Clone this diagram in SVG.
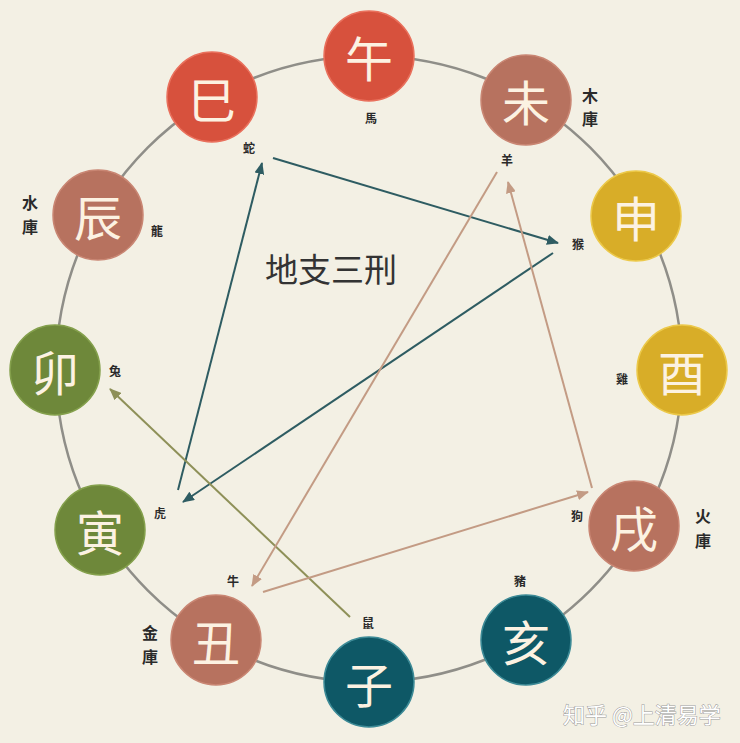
<svg xmlns="http://www.w3.org/2000/svg" width="740" height="743" viewBox="0 0 740 743">
<style>
.bg{fill:#f3f0e4}
.ring{fill:none;stroke:#8f8e88;stroke-width:2.5}
.n{stroke-width:1.5}
.red{fill:#d7513d;stroke:#e9705c}
.brn{fill:#b7725f;stroke:#c98673}
.gld{fill:#d8ad28;stroke:#ecc94a}
.grn{fill:#6e883a;stroke:#84a04c}
.tel{fill:#0e5866;stroke:#3c8a96}
.ch{font-family:"Noto Sans CJK SC","Noto Sans CJK TC",sans-serif;font-size:48px;fill:#fcf2e2;text-anchor:middle;dominant-baseline:central}
.sm{font-family:"Noto Sans CJK TC","Noto Sans CJK SC",sans-serif;font-size:12px;fill:#2a2a2a;text-anchor:middle;dominant-baseline:central;font-weight:bold}
.ku{font-family:"Noto Sans CJK TC","Noto Sans CJK SC",sans-serif;font-size:16px;fill:#2a2a2a;text-anchor:middle;dominant-baseline:central;font-weight:bold}
.title{font-family:"Noto Sans CJK SC",sans-serif;font-size:33px;fill:#333;text-anchor:middle;dominant-baseline:central}
.wm{font-family:"Noto Sans CJK SC",sans-serif;font-size:22px;fill:#ffffff;stroke:#9a9a9a;stroke-width:1;paint-order:stroke;dominant-baseline:central}
.a{fill:none;stroke-width:2}
.t{stroke:#2e5c62}
.o{stroke:#8e9058}
.b{stroke:#c39b84}
</style>
<defs>
<marker id="mt" viewBox="0 0 12 10" refX="11" refY="5" markerWidth="12" markerHeight="10" markerUnits="userSpaceOnUse" orient="auto"><path d="M0,0 L12,5 L0,10 Z" fill="#2e5c62"/></marker>
<marker id="mo" viewBox="0 0 12 10" refX="11" refY="5" markerWidth="12" markerHeight="10" markerUnits="userSpaceOnUse" orient="auto"><path d="M0,0 L12,5 L0,10 Z" fill="#8e9058"/></marker>
<marker id="mb" viewBox="0 0 12 10" refX="11" refY="5" markerWidth="12" markerHeight="10" markerUnits="userSpaceOnUse" orient="auto"><path d="M0,0 L12,5 L0,10 Z" fill="#c39b84"/></marker>
</defs>
<rect class="bg" x="0" y="0" width="740" height="743"/>
<circle class="ring" cx="369" cy="369" r="313"/>
<g id="connectors">
<line class="a t" x1="178" y1="490" x2="262" y2="163" marker-end="url(#mt)"/>
<line class="a t" x1="273" y1="158" x2="558" y2="243" marker-end="url(#mt)"/>
<line class="a t" x1="553" y1="253" x2="183" y2="502" marker-end="url(#mt)"/>
<line class="a o" x1="350" y1="617" x2="110" y2="389" marker-end="url(#mo)"/>
<line class="a b" x1="497" y1="172" x2="252" y2="586" marker-end="url(#mb)"/>
<line class="a b" x1="263" y1="592" x2="588" y2="492" marker-end="url(#mb)"/>
<line class="a b" x1="592" y1="488" x2="508" y2="182" marker-end="url(#mb)"/>
</g>
<g id="wu"><circle class="n red" cx="369" cy="56" r="45"/><text class="ch" x="369" y="56">午</text><text class="sm" x="371" y="117">馬</text></g>
<g id="si"><circle class="n red" cx="212" cy="97" r="45"/><text class="ch" x="212" y="97">巳</text><text class="sm" x="249" y="147">蛇</text></g>
<g id="wei"><circle class="n brn" cx="526" cy="100" r="45"/><text class="ch" x="526" y="100">未</text><text class="sm" x="507" y="159">羊</text><text class="ku" x="590" y="95">木</text><text class="ku" x="590" y="118">庫</text></g>
<g id="shen"><circle class="n gld" cx="636" cy="216" r="45"/><text class="ch" x="636" y="216">申</text><text class="sm" x="578" y="243">猴</text></g>
<g id="you"><circle class="n gld" cx="682" cy="370" r="45"/><text class="ch" x="682" y="370">酉</text><text class="sm" x="622" y="378">雞</text></g>
<g id="xu"><circle class="n brn" cx="634" cy="526" r="45"/><text class="ch" x="634" y="526">戌</text><text class="sm" x="577" y="515">狗</text><text class="ku" x="703" y="515">火</text><text class="ku" x="703" y="540">庫</text></g>
<g id="hai"><circle class="n tel" cx="526" cy="640" r="45"/><text class="ch" x="526" y="640">亥</text><text class="sm" x="520" y="580">豬</text></g>
<g id="zi"><circle class="n tel" cx="369" cy="682" r="45"/><text class="ch" x="369" y="682">子</text><text class="sm" x="368" y="622">鼠</text></g>
<g id="chou"><circle class="n brn" cx="216" cy="640" r="45"/><text class="ch" x="216" y="640">丑</text><text class="sm" x="233" y="580">牛</text><text class="ku" x="150" y="632">金</text><text class="ku" x="150" y="656">庫</text></g>
<g id="yin"><circle class="n grn" cx="100" cy="530" r="45"/><text class="ch" x="100" y="530">寅</text><text class="sm" x="160" y="512">虎</text></g>
<g id="mao"><circle class="n grn" cx="55" cy="370" r="45"/><text class="ch" x="55" y="370">卯</text><text class="sm" x="115" y="370">兔</text></g>
<g id="chen"><circle class="n brn" cx="98" cy="215" r="45"/><text class="ch" x="98" y="215">辰</text><text class="sm" x="157" y="230">龍</text><text class="ku" x="30" y="202">水</text><text class="ku" x="30" y="226">庫</text></g>
<text class="title" x="331" y="268">地支三刑</text>
<text class="wm" x="563" y="713">知乎 @上清易学</text>
</svg>
